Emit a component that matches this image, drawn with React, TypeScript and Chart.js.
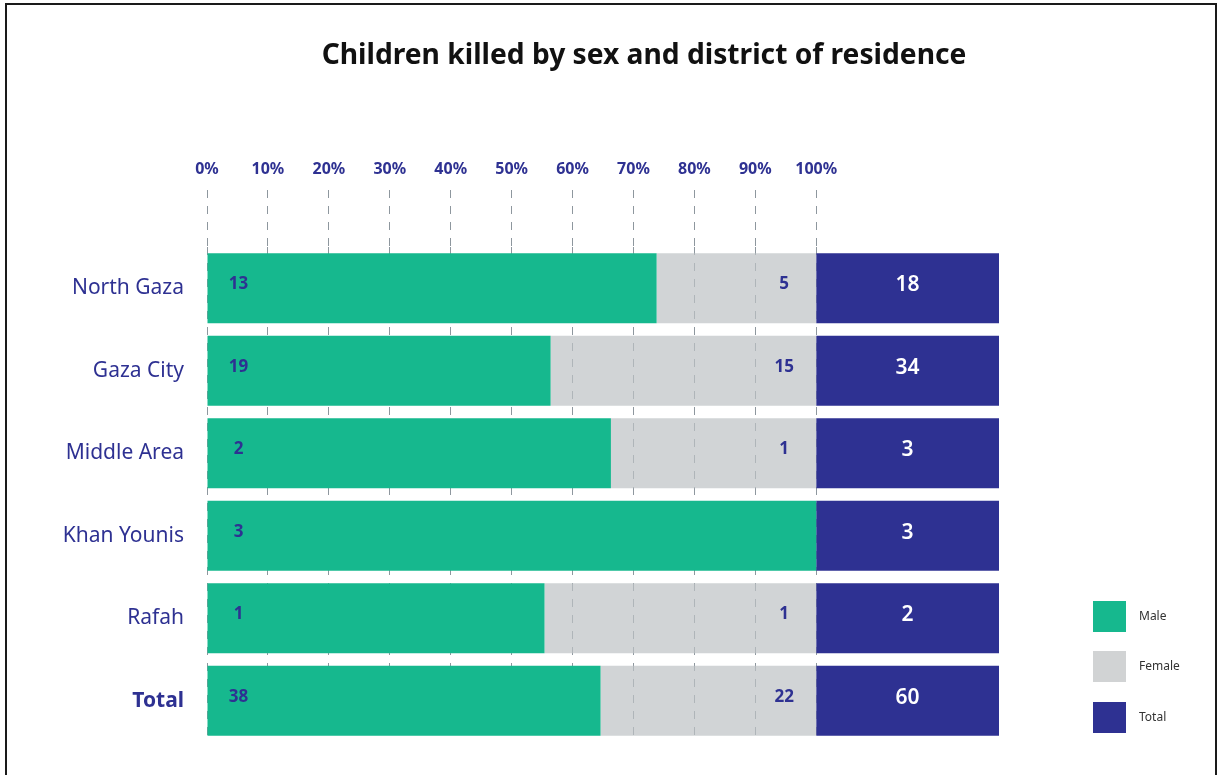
import React, { useEffect, useRef } from "react";
import { Chart, registerables } from "chart.js";

Chart.register(...registerables);

const chartTitle = "Children killed by sex and district of residence";
const districts = ["North Gaza", "Gaza City", "Middle Area", "Khan Younis", "Rafah", "Total"];
const maleCounts = [13, 19, 2, 3, 1, 38];
const femaleCounts = [5, 15, 1, 0, 1, 22];
const totalCounts = [18, 34, 3, 3, 2, 60];
// share of each bar (percent), as drawn in the reference
const malePct = [73.8, 56.4, 66.3, 100, 55.4, 64.6];
const femalePct = [26.2, 43.6, 33.7, 0, 44.6, 35.4];
// width of the "Total" block, in axis units
const totalBlock = [30, 30, 30, 30, 30, 30];
const legendLabels = ["Male", "Female", "Total"];

const GREEN = "#16b88e";
const NAVY = "#2e3192";
const GRAY_FILL = "rgba(190,194,196,0.7)";
const GRAY_SOLID = "#d1d3d4";
const GRID = "#8e979e";
const FONT = "'Noto Sans', sans-serif";

export default function App() {
  const canvasRef = useRef<HTMLCanvasElement | null>(null);

  useEffect(() => {
    const canvas = canvasRef.current;
    if (!canvas) return;
    Chart.defaults.font.family = FONT;

    const titlePlugin = {
      id: "titleText",
      afterDraw(chart: any) {
        const ctx = chart.ctx;
        ctx.save();
        ctx.font = `bold 28.2px ${FONT}`;
        ctx.fillStyle = "#111111";
        ctx.textAlign = "center";
        ctx.textBaseline = "middle";
        ctx.fillText(chartTitle, 644, 56);
        ctx.restore();
      },
    };

    const valueLabels = {
      id: "valueLabels",
      afterDatasetsDraw(chart: any) {
        const ctx = chart.ctx;
        const mMeta = chart.getDatasetMeta(0);
        const tMeta = chart.getDatasetMeta(2);
        ctx.save();
        ctx.textAlign = "center";
        ctx.textBaseline = "middle";
        for (let i = 0; i < districts.length; i++) {
          const mb = mMeta.data[i];
          const tb = tMeta.data[i];
          const y = mb.y - 4;
          ctx.font = `bold 17px ${FONT}`;
          ctx.fillStyle = NAVY;
          ctx.fillText(String(maleCounts[i]), mb.base + 31, y);
          if (femaleCounts[i] > 0) {
            ctx.fillText(String(femaleCounts[i]), tb.base - 32, y);
          }
          ctx.font = `600 21px ${FONT}`;
          ctx.fillStyle = "#ffffff";
          ctx.fillText(String(totalCounts[i]), (tb.base + tb.x) / 2, tb.y - 3);
        }
        ctx.restore();
      },
    };

    const legendPlugin = {
      id: "sideLegend",
      afterDraw(chart: any) {
        const ctx = chart.ctx;
        const colors = [GREEN, GRAY_SOLID, NAVY];
        const tops = [601, 651, 702];
        ctx.save();
        ctx.font = `12px ${FONT}`;
        ctx.textAlign = "left";
        ctx.textBaseline = "middle";
        for (let i = 0; i < legendLabels.length; i++) {
          ctx.fillStyle = colors[i];
          ctx.fillRect(1093, tops[i], 33, 31);
          ctx.fillStyle = "#333333";
          ctx.fillText(legendLabels[i], 1139, tops[i] + 15.5);
        }
        ctx.restore();
      },
    };

    const chart = new Chart(canvas, {
      type: "bar",
      data: {
        labels: districts,
        datasets: [
          { label: "Male", data: malePct, backgroundColor: GREEN },
          { label: "Female", data: femalePct, backgroundColor: GRAY_FILL },
          { label: "Total", data: totalBlock, backgroundColor: NAVY },
        ],
      },
      options: {
        indexAxis: "y",
        animation: false,
        responsive: false,
        events: [],
        layout: { padding: { left: 0, right: 220, top: 100, bottom: 33 } },
        datasets: { bar: { barPercentage: 0.85, categoryPercentage: 1, borderWidth: 0 } },
        plugins: { legend: { display: false }, tooltip: { enabled: false }, title: { display: false } },
        scales: {
          x: {
            position: "top",
            stacked: true,
            min: 0,
            max: 130,
            afterFit(scale: any) {
              scale.height = 147;
              scale.paddingLeft = 0;
              scale.paddingRight = 0;
            },
            border: { display: false, dash: [8, 8] },
            grid: {
              color: (c: any) => (c.tick && c.tick.value <= 100 ? GRID : "rgba(0,0,0,0)"),
              tickColor: (c: any) => (c.tick && c.tick.value <= 100 ? GRID : "rgba(0,0,0,0)"),
              lineWidth: 1,
              tickLength: 57,
              tickBorderDash: [8, 8],
              drawTicks: true,
            },
            ticks: {
              stepSize: 10,
              padding: 11,
              color: NAVY,
              font: { family: FONT, size: 16, weight: "bold" },
              maxRotation: 0,
              autoSkip: false,
              callback: (v: any) => (Number(v) <= 100 ? `${v}%` : ""),
            },
          },
          y: {
            stacked: true,
            afterFit(scale: any) {
              scale.width = 207;
              scale.paddingTop = 0;
              scale.paddingBottom = 0;
            },
            border: { display: false },
            grid: { display: false, drawTicks: false },
            ticks: {
              padding: 23,
              color: NAVY,
              font: (c: any) => ({
                family: FONT,
                size: 21,
                weight: c.index === districts.length - 1 ? "bold" : "normal",
              }),
            },
          },
        },
      },
      plugins: [titlePlugin, valueLabels, legendPlugin],
    } as any);

    return () => chart.destroy();
  }, []);

  return (
    <div>
      <canvas
        ref={canvasRef}
        width={1219}
        height={775}
        style={{ position: "fixed", left: 0, top: 0, width: 1219, height: 775, background: "#ffffff" }}
      />
      <div
        style={{
          position: "fixed",
          left: 5,
          top: 3,
          width: 1212,
          height: 800,
          border: "2px solid #1a1a1a",
          boxSizing: "border-box",
          pointerEvents: "none",
        }}
      />
    </div>
  );
}
